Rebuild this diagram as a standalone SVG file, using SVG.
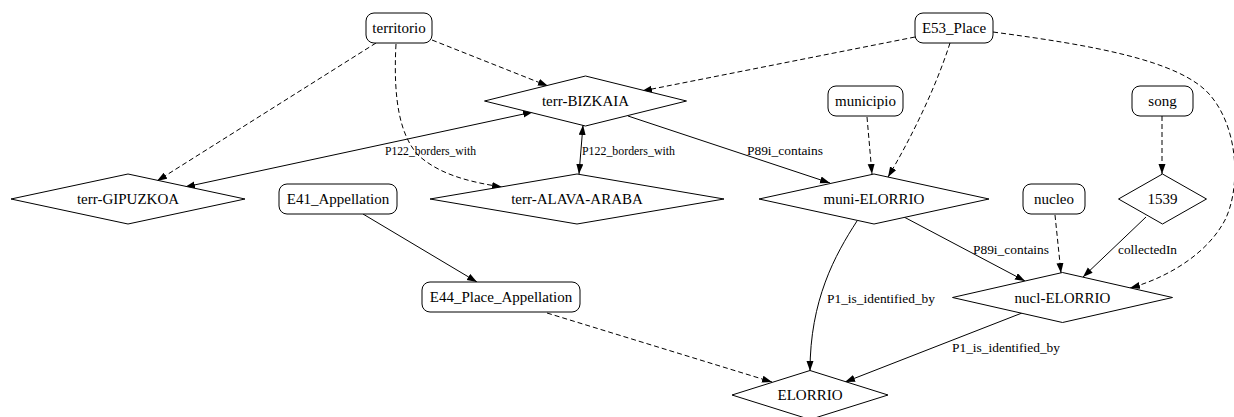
<svg xmlns="http://www.w3.org/2000/svg" width="1234" height="417" viewBox="0 0 1234 417">
<style>
.n rect, .n polygon { fill: #fff; stroke: #000; stroke-width: 1; }
.n text { font-family: "Liberation Serif", "Times New Roman", serif; font-size: 15px; text-anchor: middle; fill: #000; }
.e path { fill: none; stroke: #000; stroke-width: 1; marker-end: url(#ah); }
.e path.d { stroke-dasharray: 5,3; }
.e path.b { marker-start: url(#ah); }
.lbl { font-family: "Liberation Serif", "Times New Roman", serif; font-size: 13px; fill: #000; }
</style>
<defs>
<marker id="ah" markerUnits="userSpaceOnUse" markerWidth="10" markerHeight="8" refX="10" refY="3.5" orient="auto-start-reverse">
<path d="M0,0 L10,3.5 L0,7 z" fill="#000"/>
</marker>
</defs>
<rect width="1234" height="417" fill="#fff"/>
<g id="connectors" class="e">
<path class="d" d="M376,43 L157,181"/>
<path class="d" d="M396,44 C393,100 400,135 418,155 C440,175 470,182 502,187"/>
<path class="d" d="M432,40 L548,86"/>
<path class="d" d="M915,37 L642,91"/>
<path class="d" d="M950,43 C935,90 910,140 888,177"/>
<path class="d" d="M993,32 C1090,45 1180,60 1210,95 C1240,130 1240,190 1225,220 C1205,258 1160,280 1130,288"/>
<path class="d" d="M867,117 L872,174"/>
<path class="d" d="M1162,116 L1162,174"/>
<path class="d" d="M1055,215 L1061,273"/>
<path d="M1146,217 L1083,277"/>
<path d="M904,217 L1025,281"/>
<path d="M857,221 C835,255 810,300 810,371"/>
<path d="M1022,313 L845,382"/>
<path class="d" d="M547,313 L772,382"/>
<path d="M363,214 L477,282"/>
<path class="b" d="M185,187 L533,112"/>
<path class="b" d="M583,125 L579,174"/>
<path d="M628,116 L830,183"/>
<text class="lbl" x="385" y="155" textLength="91" lengthAdjust="spacingAndGlyphs">P122_borders_with</text>
<text class="lbl" x="582" y="155" textLength="93" lengthAdjust="spacingAndGlyphs">P122_borders_with</text>
<text class="lbl" x="747" y="155" textLength="76" lengthAdjust="spacingAndGlyphs">P89i_contains</text>
<text class="lbl" x="973" y="254" textLength="76" lengthAdjust="spacingAndGlyphs">P89i_contains</text>
<text class="lbl" x="1118" y="254" textLength="59" lengthAdjust="spacingAndGlyphs">collectedIn</text>
<text class="lbl" x="827" y="303" textLength="108" lengthAdjust="spacingAndGlyphs">P1_is_identified_by</text>
<text class="lbl" x="952" y="352" textLength="108" lengthAdjust="spacingAndGlyphs">P1_is_identified_by</text>
</g>
<g id="territorio" class="n"><rect x="366" y="13" width="66" height="30" rx="8"/><text x="399" y="33">territorio</text></g>
<g id="E53_Place" class="n"><rect x="915" y="13" width="78" height="30" rx="8"/><text x="954" y="33">E53_Place</text></g>
<g id="municipio" class="n"><rect x="828" y="86" width="75" height="30" rx="8"/><text x="865.5" y="106">municipio</text></g>
<g id="song" class="n"><rect x="1132" y="86" width="61" height="30" rx="8"/><text x="1162.5" y="106">song</text></g>
<g id="nucleo" class="n"><rect x="1023" y="184" width="62" height="30" rx="8"/><text x="1054" y="204">nucleo</text></g>
<g id="E41_Appellation" class="n"><rect x="279" y="184" width="118" height="30" rx="8"/><text x="338" y="204">E41_Appellation</text></g>
<g id="E44_Place_Appellation" class="n"><rect x="422" y="282" width="158" height="30" rx="8"/><text x="501" y="302">E44_Place_Appellation</text></g>
<g id="terr-BIZKAIA" class="n"><polygon points="484.5,101 585.5,76 686.5,101 585.5,126"/><text x="585.5" y="106">terr-BIZKAIA</text></g>
<g id="terr-GIPUZKOA" class="n"><polygon points="11,199 128,174 245,199 128,224"/><text x="128" y="204">terr-GIPUZKOA</text></g>
<g id="terr-ALAVA-ARABA" class="n"><polygon points="430,199 577,174 724,199 577,224"/><text x="577" y="204">terr-ALAVA-ARABA</text></g>
<g id="muni-ELORRIO" class="n"><polygon points="759,199 874,174 989,199 874,224"/><text x="874" y="204">muni-ELORRIO</text></g>
<g id="n1539" class="n"><polygon points="1118.5,199 1162.5,174 1206.5,199 1162.5,224"/><text x="1162.5" y="204">1539</text></g>
<g id="nucl-ELORRIO" class="n"><polygon points="952.5,297.5 1062.5,272.5 1172.5,297.5 1062.5,322.5"/><text x="1062.5" y="302.5">nucl-ELORRIO</text></g>
<g id="ELORRIO" class="n"><polygon points="732,395 810,370.5 888,395 810,419.5"/><text x="810" y="400">ELORRIO</text></g>
</svg>
